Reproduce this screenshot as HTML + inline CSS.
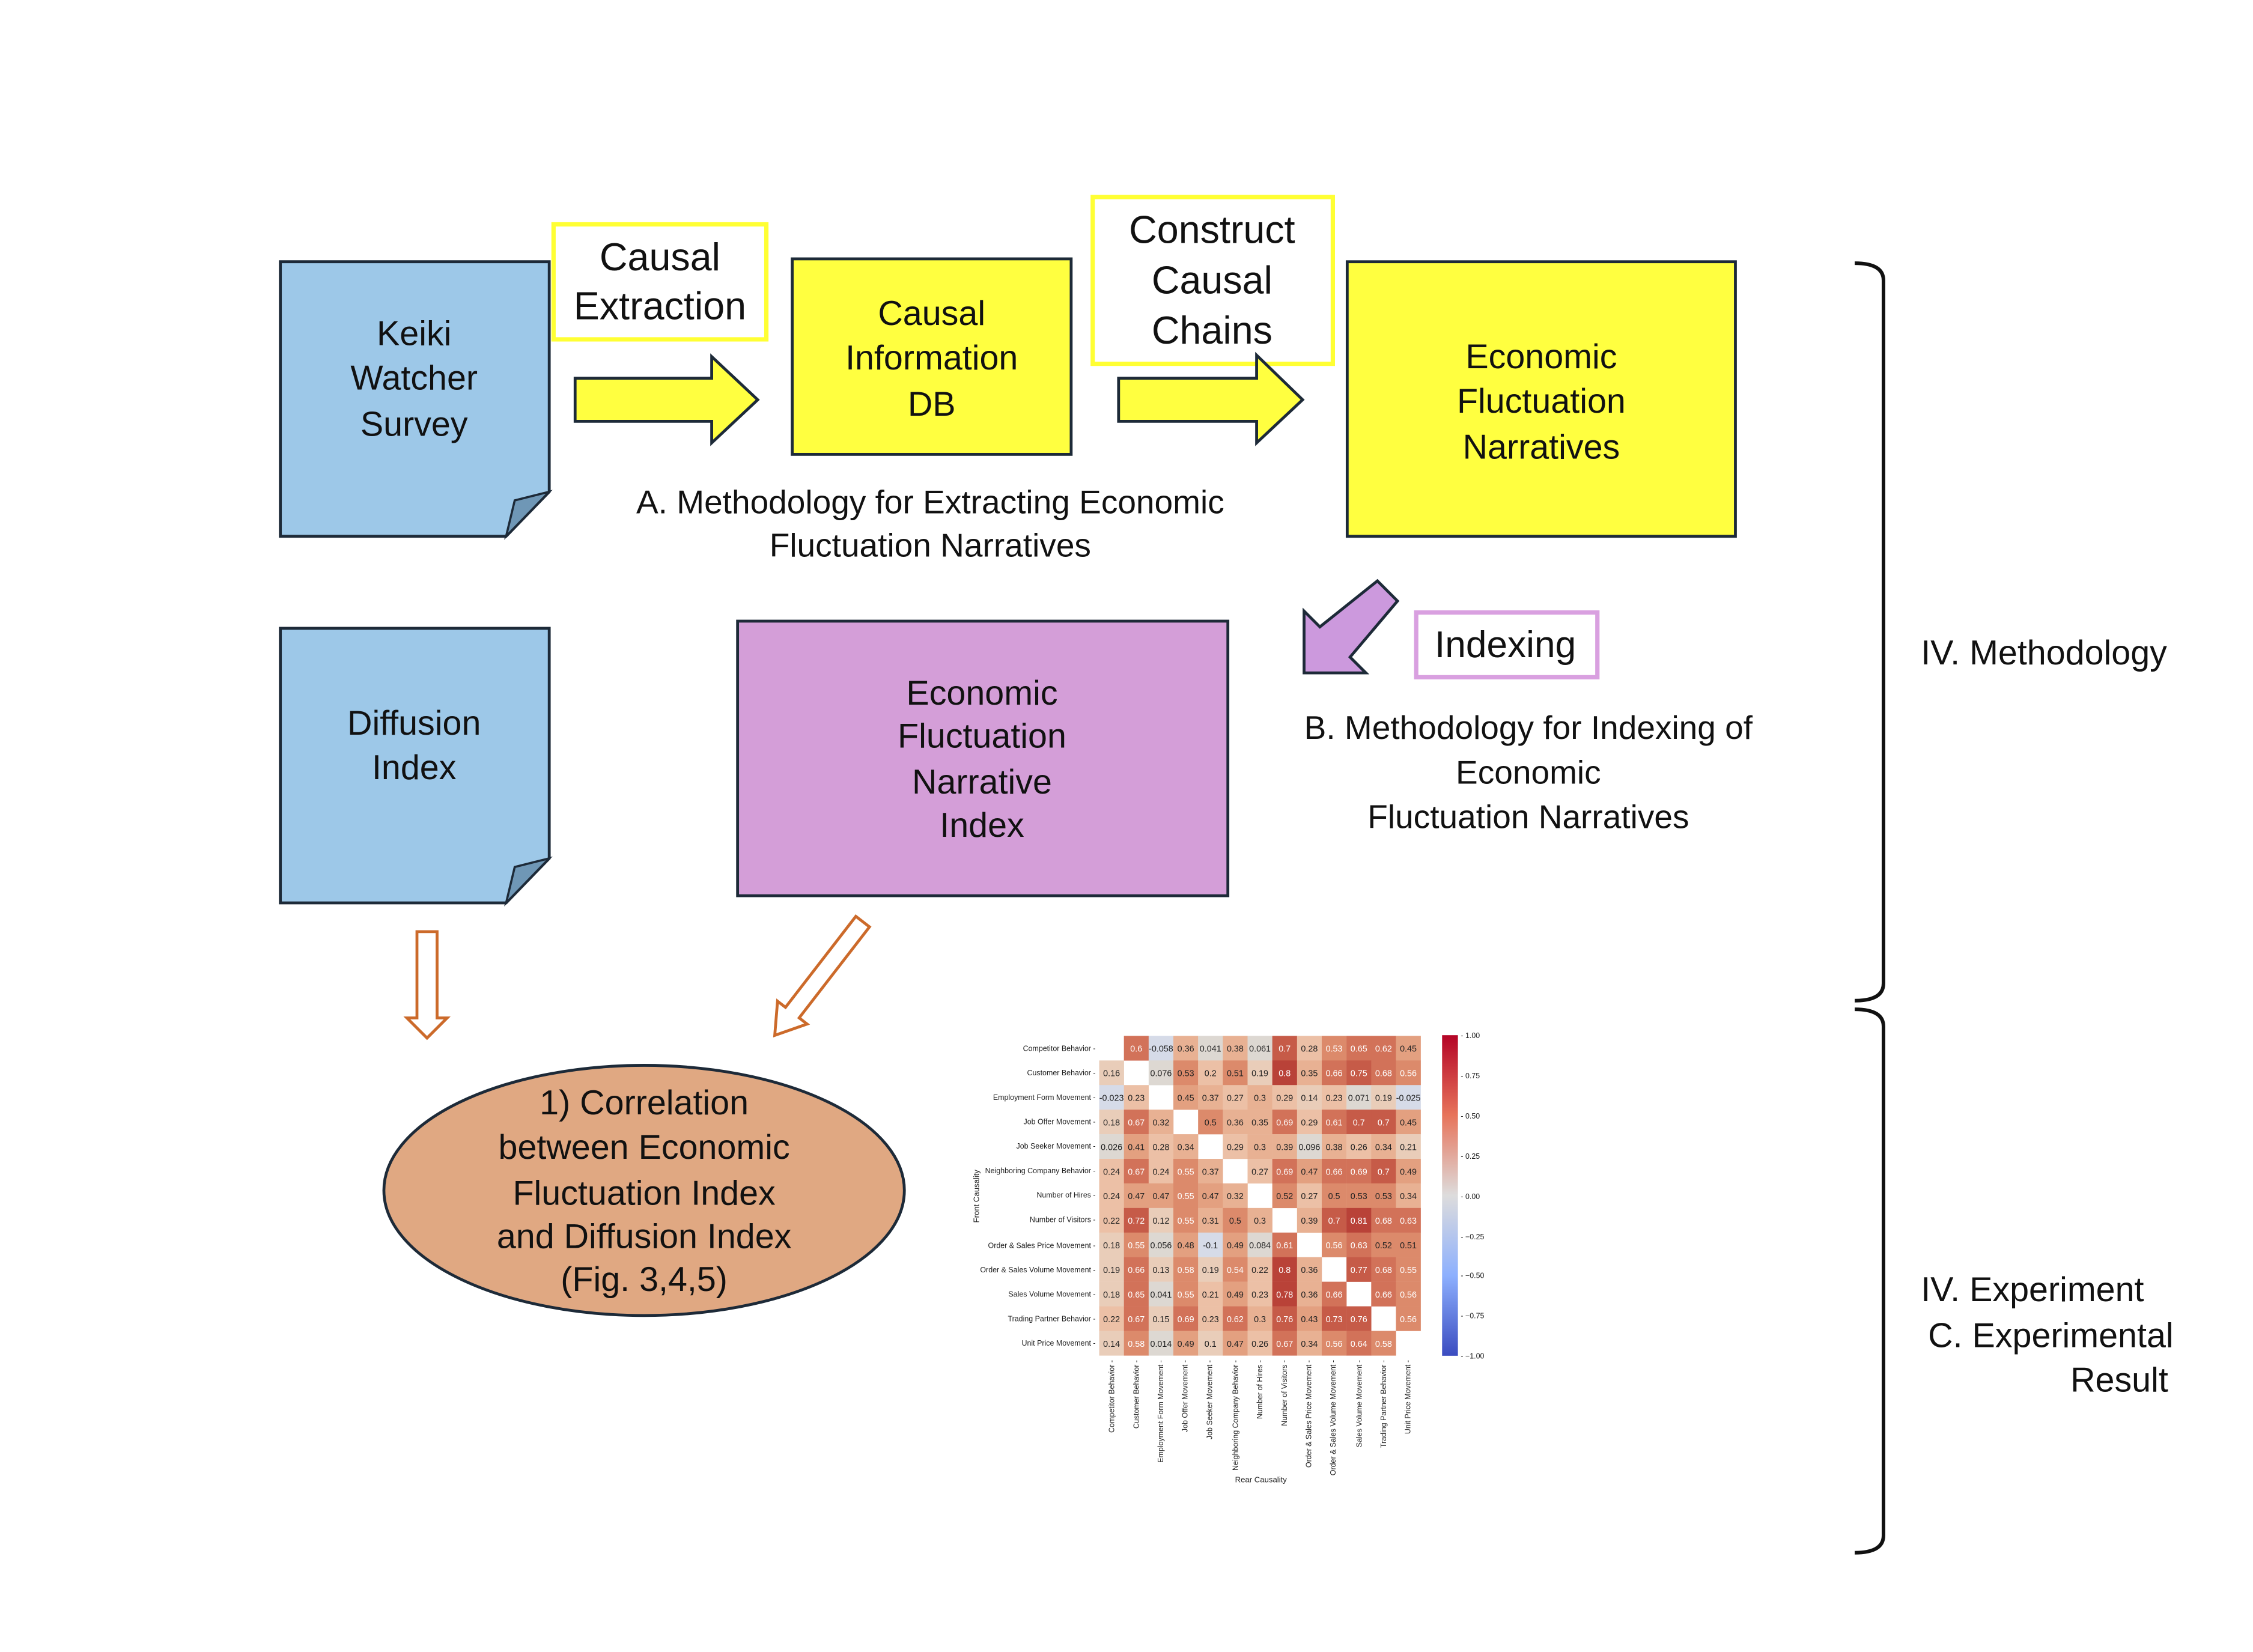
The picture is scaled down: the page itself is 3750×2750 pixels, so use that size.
<!DOCTYPE html>
<html><head><meta charset="utf-8"><style>
html,body{margin:0;padding:0;background:#fff}
svg{display:block}
text{font-family:"Liberation Sans",sans-serif}
.t{font-size:24px;text-anchor:middle;fill:#111}
.h{font-size:6px;text-anchor:middle;font-family:"Liberation Sans",sans-serif}
.l{fill:#222}.w{fill:#fff}
.rl{font-size:5.2px;text-anchor:end;fill:#222}
.a{fill:#d6dbe8}.b{fill:#ddd8d2}.c{fill:#e9cdb9}.d{fill:#ecc0a6}.e{fill:#e8b193}.f{fill:#e3a080}.g{fill:#dc8a6b}.i{fill:#d27259}.j{fill:#c65b48}.k{fill:#b94238}
</style></head><body>
<svg width="3750" height="2750" viewBox="0 0 1567 1149" xmlns="http://www.w3.org/2000/svg">
<defs><linearGradient id="cb" x1="0" y1="0" x2="0" y2="1">
<stop offset="0" stop-color="#b40426"/><stop offset="0.25" stop-color="#e7745b"/><stop offset="0.5" stop-color="#dddcdc"/><stop offset="0.75" stop-color="#8db0fe"/><stop offset="1" stop-color="#3b4cc0"/></linearGradient></defs>

<polygon points="195,182 382,182 382,342 352,373 195,373" fill="#9dc8e8" stroke="#1d2a38" stroke-width="2"/>
<polygon points="352,373 358,348 382,342" fill="#6f97b6" stroke="#1d2a38" stroke-width="1.5"/>
<text class="t" x="288" y="240">Keiki</text>
<text class="t" x="288" y="271">Watcher</text>
<text class="t" x="288" y="303">Survey</text>

<rect x="385" y="156" width="148" height="80" fill="#fff" stroke="#ffff33" stroke-width="3"/>
<text class="t" style="font-size:27px" x="459" y="188">Causal</text>
<text class="t" style="font-size:27px" x="459" y="222">Extraction</text>

<polygon points="400,263 495,263 495,248 527,278 495,308 495,293 400,293" fill="#ffff40" stroke="#1d2a38" stroke-width="2"/>

<rect x="551" y="180" width="194" height="136" fill="#ffff40" stroke="#1d2a38" stroke-width="2"/>
<text class="t" x="648" y="226">Causal</text>
<text class="t" x="648" y="257">Information</text>
<text class="t" x="648" y="289">DB</text>

<rect x="760" y="137" width="167" height="116" fill="#fff" stroke="#ffff33" stroke-width="3"/>
<text class="t" style="font-size:27px" x="843" y="169">Construct</text>
<text class="t" style="font-size:27px" x="843" y="204">Causal</text>
<text class="t" style="font-size:27px" x="843" y="239">Chains</text>

<polygon points="778,263 874,263 874,247 906,278 874,308 874,293 778,293" fill="#ffff40" stroke="#1d2a38" stroke-width="2"/>

<rect x="937" y="182" width="270" height="191" fill="#ffff40" stroke="#1d2a38" stroke-width="2"/>
<text class="t" x="1072" y="256">Economic</text>
<text class="t" x="1072" y="287">Fluctuation</text>
<text class="t" x="1072" y="319">Narratives</text>

<text class="t" style="font-size:23px" x="647" y="357">A. Methodology for Extracting Economic</text>
<text class="t" style="font-size:23px" x="647" y="387">Fluctuation Narratives</text>

<polygon points="907,425 918,436 958,404 972,418 939,457 950,468 907,468" fill="#cc99dd" stroke="#1d2a38" stroke-width="2"/>
<rect x="985" y="426" width="126" height="45" fill="#fff" stroke="#d9a0e0" stroke-width="3"/>
<text class="t" style="font-size:26px" x="1047" y="457">Indexing</text>

<text class="t" style="font-size:23px" x="1063" y="514">B. Methodology for Indexing of</text>
<text class="t" style="font-size:23px" x="1063" y="545">Economic</text>
<text class="t" style="font-size:23px" x="1063" y="576">Fluctuation Narratives</text>

<polygon points="195,437 382,437 382,597 352,628 195,628" fill="#9dc8e8" stroke="#1d2a38" stroke-width="2"/>
<polygon points="352,628 358,603 382,597" fill="#6f97b6" stroke="#1d2a38" stroke-width="1.5"/>
<text class="t" x="288" y="511">Diffusion</text>
<text class="t" x="288" y="542">Index</text>

<rect x="513" y="432" width="341" height="191" fill="#d49ed8" stroke="#1d2a38" stroke-width="2"/>
<text class="t" x="683" y="490">Economic</text>
<text class="t" x="683" y="520">Fluctuation</text>
<text class="t" x="683" y="552">Narrative</text>
<text class="t" x="683" y="582">Index</text>

<g transform="translate(297,648)"><polygon points="-7,0 7,0 7,60 14,60 0,74 -14,60 -7,60" fill="#fff" stroke="#cc6a2a" stroke-width="2"/></g>
<g transform="translate(600,641) rotate(37.7)"><polygon points="-6,0 6,0 6,80 13,80 0,100 -13,80 -6,80" fill="#fff" stroke="#cc6a2a" stroke-width="2"/></g>

<ellipse cx="448" cy="828" rx="181" ry="87" fill="#e0a882" stroke="#1d2a38" stroke-width="2"/>
<text class="t" x="448" y="775">1) Correlation</text>
<text class="t" x="448" y="806">between Economic</text>
<text class="t" x="448" y="838">Fluctuation Index</text>
<text class="t" x="448" y="868">and Diffusion Index</text>
<text class="t" x="448" y="898">(Fig. 3,4,5)</text>

<path d="M1290,183 Q1310,183 1310,195 V684 Q1310,696 1290,696" fill="none" stroke="#111" stroke-width="2.5"/>
<path d="M1290,702 Q1310,702 1310,714 V1068 Q1310,1080 1290,1080" fill="none" stroke="#111" stroke-width="2.5"/>
<text style="font-size:24px" x="1336" y="462" fill="#111">IV. Methodology</text>
<text style="font-size:24px" x="1336" y="905" fill="#111">IV. Experiment</text>
<text style="font-size:24px" x="1341" y="937" fill="#111">C. Experimental</text>
<text style="font-size:24px" x="1440" y="968" fill="#111">Result</text>

<g>
<text class="rl" x="762" y="731">Competitor Behavior -</text>
<text class="rl" x="762" y="748">Customer Behavior -</text>
<text class="rl" x="762" y="765">Employment Form Movement -</text>
<text class="rl" x="762" y="782">Job Offer Movement -</text>
<text class="rl" x="762" y="799">Job Seeker Movement -</text>
<text class="rl" x="762" y="816">Neighboring Company Behavior -</text>
<text class="rl" x="762" y="833">Number of Hires -</text>
<text class="rl" x="762" y="850">Number of Visitors -</text>
<text class="rl" x="762" y="868">Order &amp; Sales Price Movement -</text>
<text class="rl" x="762" y="885">Order &amp; Sales Volume Movement -</text>
<text class="rl" x="762" y="902">Sales Volume Movement -</text>
<text class="rl" x="762" y="919">Trading Partner Behavior -</text>
<text class="rl" x="762" y="936">Unit Price Movement -</text>
<text transform="translate(681,832) rotate(-90)" style="font-size:5.5px;text-anchor:middle" fill="#222">Front Causality</text>
<text x="877" y="1031" style="font-size:5.5px;text-anchor:middle" fill="#222">Rear Causality</text>

<g transform="translate(764.5,720.5)">
<rect class="i" x="17.2" width="17.3" height="17.2"/><rect class="a" x="34.4" width="17.3" height="17.2"/><rect class="e" x="51.6" width="17.3" height="17.2"/><rect class="b" x="68.8" width="17.3" height="17.2"/><rect class="e" x="86" width="17.3" height="17.2"/><rect class="b" x="103.2" width="17.3" height="17.2"/><rect class="j" x="120.4" width="17.3" height="17.2"/><rect class="d" x="137.6" width="17.3" height="17.2"/><rect class="g" x="154.8" width="17.3" height="17.2"/><rect class="i" x="172" width="17.3" height="17.2"/><rect class="i" x="189.2" width="17.3" height="17.2"/><rect class="f" x="206.4" width="17.3" height="17.2"/>
<g class="h"><text class="w" x="25.8" y="11">0.6</text><text class="l" x="43" y="11">-0.058</text><text class="l" x="60.2" y="11">0.36</text><text class="l" x="77.4" y="11">0.041</text><text class="l" x="94.6" y="11">0.38</text><text class="l" x="111.8" y="11">0.061</text><text class="w" x="129" y="11">0.7</text><text class="l" x="146.2" y="11">0.28</text><text class="w" x="163.4" y="11">0.53</text><text class="w" x="180.6" y="11">0.65</text><text class="w" x="197.8" y="11">0.62</text><text class="l" x="215" y="11">0.45</text></g>
</g>
<g transform="translate(764.5,737.6)">
<rect class="c" x="0" width="17.3" height="17.2"/><rect class="b" x="34.4" width="17.3" height="17.2"/><rect class="g" x="51.6" width="17.3" height="17.2"/><rect class="d" x="68.8" width="17.3" height="17.2"/><rect class="g" x="86" width="17.3" height="17.2"/><rect class="c" x="103.2" width="17.3" height="17.2"/><rect class="k" x="120.4" width="17.3" height="17.2"/><rect class="e" x="137.6" width="17.3" height="17.2"/><rect class="i" x="154.8" width="17.3" height="17.2"/><rect class="j" x="172" width="17.3" height="17.2"/><rect class="i" x="189.2" width="17.3" height="17.2"/><rect class="g" x="206.4" width="17.3" height="17.2"/>
<g class="h"><text class="l" x="8.6" y="11">0.16</text><text class="l" x="43" y="11">0.076</text><text class="l" x="60.2" y="11">0.53</text><text class="l" x="77.4" y="11">0.2</text><text class="l" x="94.6" y="11">0.51</text><text class="l" x="111.8" y="11">0.19</text><text class="w" x="129" y="11">0.8</text><text class="l" x="146.2" y="11">0.35</text><text class="w" x="163.4" y="11">0.66</text><text class="w" x="180.6" y="11">0.75</text><text class="w" x="197.8" y="11">0.68</text><text class="w" x="215" y="11">0.56</text></g>
</g>
<g transform="translate(764.5,754.7)">
<rect class="a" x="0" width="17.3" height="17.2"/><rect class="d" x="17.2" width="17.3" height="17.2"/><rect class="f" x="51.6" width="17.3" height="17.2"/><rect class="e" x="68.8" width="17.3" height="17.2"/><rect class="d" x="86" width="17.3" height="17.2"/><rect class="e" x="103.2" width="17.3" height="17.2"/><rect class="d" x="120.4" width="17.3" height="17.2"/><rect class="c" x="137.6" width="17.3" height="17.2"/><rect class="d" x="154.8" width="17.3" height="17.2"/><rect class="b" x="172" width="17.3" height="17.2"/><rect class="c" x="189.2" width="17.3" height="17.2"/><rect class="a" x="206.4" width="17.3" height="17.2"/>
<g class="h"><text class="l" x="8.6" y="11">-0.023</text><text class="l" x="25.8" y="11">0.23</text><text class="l" x="60.2" y="11">0.45</text><text class="l" x="77.4" y="11">0.37</text><text class="l" x="94.6" y="11">0.27</text><text class="l" x="111.8" y="11">0.3</text><text class="l" x="129" y="11">0.29</text><text class="l" x="146.2" y="11">0.14</text><text class="l" x="163.4" y="11">0.23</text><text class="l" x="180.6" y="11">0.071</text><text class="l" x="197.8" y="11">0.19</text><text class="l" x="215" y="11">-0.025</text></g>
</g>
<g transform="translate(764.5,771.8)">
<rect class="c" x="0" width="17.3" height="17.2"/><rect class="i" x="17.2" width="17.3" height="17.2"/><rect class="e" x="34.4" width="17.3" height="17.2"/><rect class="g" x="68.8" width="17.3" height="17.2"/><rect class="e" x="86" width="17.3" height="17.2"/><rect class="e" x="103.2" width="17.3" height="17.2"/><rect class="i" x="120.4" width="17.3" height="17.2"/><rect class="d" x="137.6" width="17.3" height="17.2"/><rect class="i" x="154.8" width="17.3" height="17.2"/><rect class="j" x="172" width="17.3" height="17.2"/><rect class="j" x="189.2" width="17.3" height="17.2"/><rect class="f" x="206.4" width="17.3" height="17.2"/>
<g class="h"><text class="l" x="8.6" y="11">0.18</text><text class="w" x="25.8" y="11">0.67</text><text class="l" x="43" y="11">0.32</text><text class="l" x="77.4" y="11">0.5</text><text class="l" x="94.6" y="11">0.36</text><text class="l" x="111.8" y="11">0.35</text><text class="w" x="129" y="11">0.69</text><text class="l" x="146.2" y="11">0.29</text><text class="w" x="163.4" y="11">0.61</text><text class="w" x="180.6" y="11">0.7</text><text class="w" x="197.8" y="11">0.7</text><text class="l" x="215" y="11">0.45</text></g>
</g>
<g transform="translate(764.5,788.9)">
<rect class="b" x="0" width="17.3" height="17.2"/><rect class="f" x="17.2" width="17.3" height="17.2"/><rect class="d" x="34.4" width="17.3" height="17.2"/><rect class="e" x="51.6" width="17.3" height="17.2"/><rect class="d" x="86" width="17.3" height="17.2"/><rect class="e" x="103.2" width="17.3" height="17.2"/><rect class="e" x="120.4" width="17.3" height="17.2"/><rect class="b" x="137.6" width="17.3" height="17.2"/><rect class="e" x="154.8" width="17.3" height="17.2"/><rect class="d" x="172" width="17.3" height="17.2"/><rect class="e" x="189.2" width="17.3" height="17.2"/><rect class="c" x="206.4" width="17.3" height="17.2"/>
<g class="h"><text class="l" x="8.6" y="11">0.026</text><text class="l" x="25.8" y="11">0.41</text><text class="l" x="43" y="11">0.28</text><text class="l" x="60.2" y="11">0.34</text><text class="l" x="94.6" y="11">0.29</text><text class="l" x="111.8" y="11">0.3</text><text class="l" x="129" y="11">0.39</text><text class="l" x="146.2" y="11">0.096</text><text class="l" x="163.4" y="11">0.38</text><text class="l" x="180.6" y="11">0.26</text><text class="l" x="197.8" y="11">0.34</text><text class="l" x="215" y="11">0.21</text></g>
</g>
<g transform="translate(764.5,806)">
<rect class="d" x="0" width="17.3" height="17.2"/><rect class="i" x="17.2" width="17.3" height="17.2"/><rect class="d" x="34.4" width="17.3" height="17.2"/><rect class="g" x="51.6" width="17.3" height="17.2"/><rect class="e" x="68.8" width="17.3" height="17.2"/><rect class="d" x="103.2" width="17.3" height="17.2"/><rect class="i" x="120.4" width="17.3" height="17.2"/><rect class="f" x="137.6" width="17.3" height="17.2"/><rect class="i" x="154.8" width="17.3" height="17.2"/><rect class="i" x="172" width="17.3" height="17.2"/><rect class="j" x="189.2" width="17.3" height="17.2"/><rect class="f" x="206.4" width="17.3" height="17.2"/>
<g class="h"><text class="l" x="8.6" y="11">0.24</text><text class="w" x="25.8" y="11">0.67</text><text class="l" x="43" y="11">0.24</text><text class="w" x="60.2" y="11">0.55</text><text class="l" x="77.4" y="11">0.37</text><text class="l" x="111.8" y="11">0.27</text><text class="w" x="129" y="11">0.69</text><text class="l" x="146.2" y="11">0.47</text><text class="w" x="163.4" y="11">0.66</text><text class="w" x="180.6" y="11">0.69</text><text class="w" x="197.8" y="11">0.7</text><text class="l" x="215" y="11">0.49</text></g>
</g>
<g transform="translate(764.5,823.1)">
<rect class="d" x="0" width="17.3" height="17.2"/><rect class="f" x="17.2" width="17.3" height="17.2"/><rect class="f" x="34.4" width="17.3" height="17.2"/><rect class="g" x="51.6" width="17.3" height="17.2"/><rect class="f" x="68.8" width="17.3" height="17.2"/><rect class="e" x="86" width="17.3" height="17.2"/><rect class="g" x="120.4" width="17.3" height="17.2"/><rect class="d" x="137.6" width="17.3" height="17.2"/><rect class="g" x="154.8" width="17.3" height="17.2"/><rect class="g" x="172" width="17.3" height="17.2"/><rect class="g" x="189.2" width="17.3" height="17.2"/><rect class="e" x="206.4" width="17.3" height="17.2"/>
<g class="h"><text class="l" x="8.6" y="11">0.24</text><text class="l" x="25.8" y="11">0.47</text><text class="l" x="43" y="11">0.47</text><text class="w" x="60.2" y="11">0.55</text><text class="l" x="77.4" y="11">0.47</text><text class="l" x="94.6" y="11">0.32</text><text class="l" x="129" y="11">0.52</text><text class="l" x="146.2" y="11">0.27</text><text class="l" x="163.4" y="11">0.5</text><text class="l" x="180.6" y="11">0.53</text><text class="l" x="197.8" y="11">0.53</text><text class="l" x="215" y="11">0.34</text></g>
</g>
<g transform="translate(764.5,840.2)">
<rect class="d" x="0" width="17.3" height="17.2"/><rect class="j" x="17.2" width="17.3" height="17.2"/><rect class="c" x="34.4" width="17.3" height="17.2"/><rect class="g" x="51.6" width="17.3" height="17.2"/><rect class="e" x="68.8" width="17.3" height="17.2"/><rect class="g" x="86" width="17.3" height="17.2"/><rect class="e" x="103.2" width="17.3" height="17.2"/><rect class="e" x="137.6" width="17.3" height="17.2"/><rect class="j" x="154.8" width="17.3" height="17.2"/><rect class="k" x="172" width="17.3" height="17.2"/><rect class="i" x="189.2" width="17.3" height="17.2"/><rect class="i" x="206.4" width="17.3" height="17.2"/>
<g class="h"><text class="l" x="8.6" y="11">0.22</text><text class="w" x="25.8" y="11">0.72</text><text class="l" x="43" y="11">0.12</text><text class="w" x="60.2" y="11">0.55</text><text class="l" x="77.4" y="11">0.31</text><text class="l" x="94.6" y="11">0.5</text><text class="l" x="111.8" y="11">0.3</text><text class="l" x="146.2" y="11">0.39</text><text class="w" x="163.4" y="11">0.7</text><text class="w" x="180.6" y="11">0.81</text><text class="w" x="197.8" y="11">0.68</text><text class="w" x="215" y="11">0.63</text></g>
</g>
<g transform="translate(764.5,857.3)">
<rect class="c" x="0" width="17.3" height="17.2"/><rect class="g" x="17.2" width="17.3" height="17.2"/><rect class="b" x="34.4" width="17.3" height="17.2"/><rect class="f" x="51.6" width="17.3" height="17.2"/><rect class="a" x="68.8" width="17.3" height="17.2"/><rect class="f" x="86" width="17.3" height="17.2"/><rect class="b" x="103.2" width="17.3" height="17.2"/><rect class="i" x="120.4" width="17.3" height="17.2"/><rect class="g" x="154.8" width="17.3" height="17.2"/><rect class="i" x="172" width="17.3" height="17.2"/><rect class="g" x="189.2" width="17.3" height="17.2"/><rect class="g" x="206.4" width="17.3" height="17.2"/>
<g class="h"><text class="l" x="8.6" y="11">0.18</text><text class="w" x="25.8" y="11">0.55</text><text class="l" x="43" y="11">0.056</text><text class="l" x="60.2" y="11">0.48</text><text class="l" x="77.4" y="11">-0.1</text><text class="l" x="94.6" y="11">0.49</text><text class="l" x="111.8" y="11">0.084</text><text class="w" x="129" y="11">0.61</text><text class="w" x="163.4" y="11">0.56</text><text class="w" x="180.6" y="11">0.63</text><text class="l" x="197.8" y="11">0.52</text><text class="l" x="215" y="11">0.51</text></g>
</g>
<g transform="translate(764.5,874.4)">
<rect class="c" x="0" width="17.3" height="17.2"/><rect class="i" x="17.2" width="17.3" height="17.2"/><rect class="c" x="34.4" width="17.3" height="17.2"/><rect class="g" x="51.6" width="17.3" height="17.2"/><rect class="c" x="68.8" width="17.3" height="17.2"/><rect class="g" x="86" width="17.3" height="17.2"/><rect class="d" x="103.2" width="17.3" height="17.2"/><rect class="k" x="120.4" width="17.3" height="17.2"/><rect class="e" x="137.6" width="17.3" height="17.2"/><rect class="j" x="172" width="17.3" height="17.2"/><rect class="i" x="189.2" width="17.3" height="17.2"/><rect class="g" x="206.4" width="17.3" height="17.2"/>
<g class="h"><text class="l" x="8.6" y="11">0.19</text><text class="w" x="25.8" y="11">0.66</text><text class="l" x="43" y="11">0.13</text><text class="w" x="60.2" y="11">0.58</text><text class="l" x="77.4" y="11">0.19</text><text class="w" x="94.6" y="11">0.54</text><text class="l" x="111.8" y="11">0.22</text><text class="w" x="129" y="11">0.8</text><text class="l" x="146.2" y="11">0.36</text><text class="w" x="180.6" y="11">0.77</text><text class="w" x="197.8" y="11">0.68</text><text class="w" x="215" y="11">0.55</text></g>
</g>
<g transform="translate(764.5,891.5)">
<rect class="c" x="0" width="17.3" height="17.2"/><rect class="i" x="17.2" width="17.3" height="17.2"/><rect class="b" x="34.4" width="17.3" height="17.2"/><rect class="g" x="51.6" width="17.3" height="17.2"/><rect class="d" x="68.8" width="17.3" height="17.2"/><rect class="f" x="86" width="17.3" height="17.2"/><rect class="d" x="103.2" width="17.3" height="17.2"/><rect class="k" x="120.4" width="17.3" height="17.2"/><rect class="e" x="137.6" width="17.3" height="17.2"/><rect class="i" x="154.8" width="17.3" height="17.2"/><rect class="i" x="189.2" width="17.3" height="17.2"/><rect class="g" x="206.4" width="17.3" height="17.2"/>
<g class="h"><text class="l" x="8.6" y="11">0.18</text><text class="w" x="25.8" y="11">0.65</text><text class="l" x="43" y="11">0.041</text><text class="w" x="60.2" y="11">0.55</text><text class="l" x="77.4" y="11">0.21</text><text class="l" x="94.6" y="11">0.49</text><text class="l" x="111.8" y="11">0.23</text><text class="w" x="129" y="11">0.78</text><text class="l" x="146.2" y="11">0.36</text><text class="w" x="163.4" y="11">0.66</text><text class="w" x="197.8" y="11">0.66</text><text class="w" x="215" y="11">0.56</text></g>
</g>
<g transform="translate(764.5,908.6)">
<rect class="d" x="0" width="17.3" height="17.2"/><rect class="i" x="17.2" width="17.3" height="17.2"/><rect class="c" x="34.4" width="17.3" height="17.2"/><rect class="i" x="51.6" width="17.3" height="17.2"/><rect class="d" x="68.8" width="17.3" height="17.2"/><rect class="i" x="86" width="17.3" height="17.2"/><rect class="e" x="103.2" width="17.3" height="17.2"/><rect class="j" x="120.4" width="17.3" height="17.2"/><rect class="f" x="137.6" width="17.3" height="17.2"/><rect class="j" x="154.8" width="17.3" height="17.2"/><rect class="j" x="172" width="17.3" height="17.2"/><rect class="g" x="206.4" width="17.3" height="17.2"/>
<g class="h"><text class="l" x="8.6" y="11">0.22</text><text class="w" x="25.8" y="11">0.67</text><text class="l" x="43" y="11">0.15</text><text class="w" x="60.2" y="11">0.69</text><text class="l" x="77.4" y="11">0.23</text><text class="w" x="94.6" y="11">0.62</text><text class="l" x="111.8" y="11">0.3</text><text class="w" x="129" y="11">0.76</text><text class="l" x="146.2" y="11">0.43</text><text class="w" x="163.4" y="11">0.73</text><text class="w" x="180.6" y="11">0.76</text><text class="w" x="215" y="11">0.56</text></g>
</g>
<g transform="translate(764.5,925.7)">
<rect class="c" x="0" width="17.3" height="17.2"/><rect class="g" x="17.2" width="17.3" height="17.2"/><rect class="b" x="34.4" width="17.3" height="17.2"/><rect class="f" x="51.6" width="17.3" height="17.2"/><rect class="c" x="68.8" width="17.3" height="17.2"/><rect class="f" x="86" width="17.3" height="17.2"/><rect class="d" x="103.2" width="17.3" height="17.2"/><rect class="i" x="120.4" width="17.3" height="17.2"/><rect class="e" x="137.6" width="17.3" height="17.2"/><rect class="g" x="154.8" width="17.3" height="17.2"/><rect class="i" x="172" width="17.3" height="17.2"/><rect class="g" x="189.2" width="17.3" height="17.2"/>
<g class="h"><text class="l" x="8.6" y="11">0.14</text><text class="w" x="25.8" y="11">0.58</text><text class="l" x="43" y="11">0.014</text><text class="l" x="60.2" y="11">0.49</text><text class="l" x="77.4" y="11">0.1</text><text class="l" x="94.6" y="11">0.47</text><text class="l" x="111.8" y="11">0.26</text><text class="w" x="129" y="11">0.67</text><text class="l" x="146.2" y="11">0.34</text><text class="w" x="163.4" y="11">0.56</text><text class="w" x="180.6" y="11">0.64</text><text class="w" x="197.8" y="11">0.58</text></g>
</g>

<g style="font-size:5.2px;text-anchor:end" fill="#222">
<text transform="translate(775,946) rotate(-90)">Competitor Behavior -</text>
<text transform="translate(792,946) rotate(-90)">Customer Behavior -</text>
<text transform="translate(809,946) rotate(-90)">Employment Form Movement -</text>
<text transform="translate(826,946) rotate(-90)">Job Offer Movement -</text>
<text transform="translate(843,946) rotate(-90)">Job Seeker Movement -</text>
<text transform="translate(861,946) rotate(-90)">Neighboring Company Behavior -</text>
<text transform="translate(878,946) rotate(-90)">Number of Hires -</text>
<text transform="translate(895,946) rotate(-90)">Number of Visitors -</text>
<text transform="translate(912,946) rotate(-90)">Order &amp; Sales Price Movement -</text>
<text transform="translate(929,946) rotate(-90)">Order &amp; Sales Volume Movement -</text>
<text transform="translate(947,946) rotate(-90)">Sales Volume Movement -</text>
<text transform="translate(964,946) rotate(-90)">Trading Partner Behavior -</text>
<text transform="translate(981,946) rotate(-90)">Unit Price Movement -</text>
</g>

<rect x="1003" y="720" width="11" height="223" fill="url(#cb)"/>
<g style="font-size:5.2px" fill="#222">
<text x="1016" y="722">- 1.00</text><text x="1016" y="750">- 0.75</text><text x="1016" y="778">- 0.50</text><text x="1016" y="806">- 0.25</text><text x="1016" y="834">- 0.00</text><text x="1016" y="862">- −0.25</text><text x="1016" y="889">- −0.50</text><text x="1016" y="917">- −0.75</text><text x="1016" y="945">- −1.00</text>
</g>
</g>
</svg>
</body></html>
